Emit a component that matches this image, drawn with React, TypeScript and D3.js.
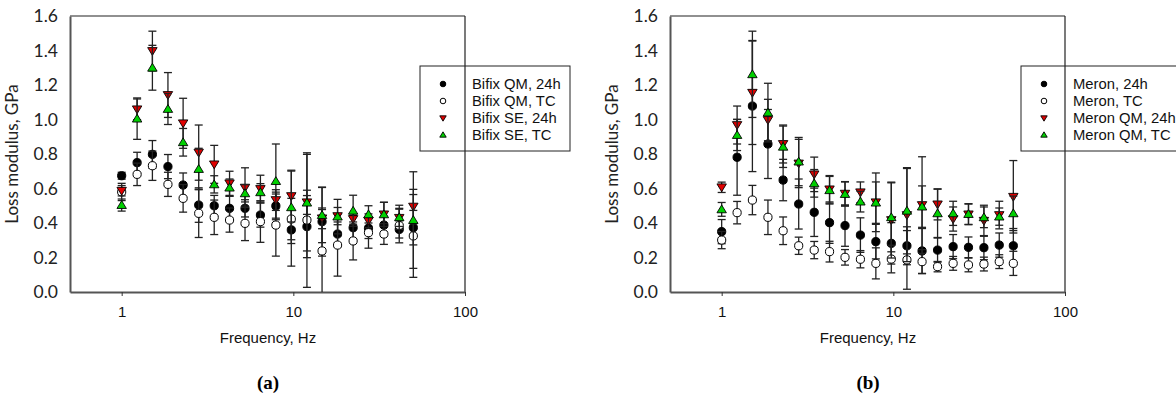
import React, { useEffect, useRef } from "react";
import * as d3 from "d3";

// frequencies shared by both panels
const freqHz = [1, 1.23, 1.51, 1.86, 2.28, 2.81, 3.46, 4.25, 5.23, 6.43, 7.91, 9.73, 12.0, 14.7, 18.1, 22.3, 27.4, 33.7, 41.4, 50];

const xTickValues = [1, 10, 100];
const yTickValues = [0, 0.2, 0.4, 0.6, 0.8, 1.0, 1.2, 1.4, 1.6];

// (a) Bifix
const bifixQm24 = [0.674, 0.75, 0.798, 0.727, 0.62, 0.504, 0.5, 0.485, 0.485, 0.446, 0.499, 0.36, 0.379, 0.408, 0.336, 0.373, 0.37, 0.388, 0.363, 0.373];
const bifixQm24Err = [0.02, 0.06, 0.08, 0.07, 0.07, 0.1, 0.06, 0.07, 0.05, 0.07, 0.08, 0.21, 0.18, 0.2, 0.07, 0.07, 0.06, 0.05, 0.05, 0.1];
const bifixQmTc = [0.58, 0.682, 0.732, 0.624, 0.543, 0.456, 0.433, 0.417, 0.398, 0.408, 0.388, 0.423, 0.417, 0.238, 0.272, 0.296, 0.344, 0.336, 0.385, 0.325];
const bifixQmTcErr = [0.05, 0.065, 0.085, 0.07, 0.08, 0.14, 0.1, 0.07, 0.1, 0.12, 0.18, 0.12, 0.39, 0.24, 0.18, 0.11, 0.09, 0.06, 0.1, 0.24];
const bifixSe24 = [0.587, 1.059, 1.397, 1.142, 0.978, 0.808, 0.74, 0.63, 0.605, 0.597, 0.533, 0.556, 0.52, 0.427, 0.44, 0.423, 0.413, 0.45, 0.43, 0.495];
const bifixSe24Err = [0.03, 0.06, 0.115, 0.13, 0.145, 0.16, 0.11, 0.07, 0.115, 0.08, 0.06, 0.15, 0.07, 0.06, 0.05, 0.03, 0.04, 0.07, 0.05, 0.1];
const bifixSeTc = [0.504, 1.005, 1.3, 1.061, 0.868, 0.713, 0.624, 0.605, 0.572, 0.578, 0.643, 0.491, 0.518, 0.446, 0.437, 0.471, 0.45, 0.45, 0.433, 0.417];
const bifixSeTcErr = [0.035, 0.12, 0.13, 0.09, 0.08, 0.12, 0.05, 0.05, 0.05, 0.05, 0.215, 0.21, 0.28, 0.16, 0.1, 0.09, 0.05, 0.07, 0.07, 0.28];

// (b) Meron
const meron24 = [0.35, 0.781, 1.078, 0.858, 0.649, 0.51, 0.462, 0.402, 0.385, 0.33, 0.292, 0.282, 0.268, 0.238, 0.243, 0.263, 0.259, 0.257, 0.272, 0.268];
const meron24Err = [0.07, 0.22, 0.38, 0.2, 0.12, 0.145, 0.14, 0.12, 0.12, 0.1, 0.1, 0.12, 0.11, 0.13, 0.07, 0.07, 0.06, 0.07, 0.07, 0.1];
const meronTc = [0.301, 0.46, 0.533, 0.433, 0.355, 0.268, 0.243, 0.234, 0.201, 0.19, 0.166, 0.191, 0.186, 0.176, 0.147, 0.166, 0.157, 0.162, 0.176, 0.166];
const meronTcErr = [0.05, 0.065, 0.085, 0.1, 0.08, 0.05, 0.05, 0.06, 0.045, 0.05, 0.09, 0.08, 0.17, 0.07, 0.03, 0.04, 0.04, 0.04, 0.04, 0.07];
const meronQm24 = [0.607, 0.968, 1.155, 0.997, 0.858, 0.745, 0.682, 0.595, 0.57, 0.578, 0.52, 0.417, 0.446, 0.504, 0.508, 0.423, 0.45, 0.413, 0.446, 0.552];
const meronQm24Err = [0.03, 0.11, 0.3, 0.12, 0.11, 0.14, 0.1, 0.08, 0.07, 0.06, 0.17, 0.22, 0.27, 0.28, 0.09, 0.07, 0.06, 0.09, 0.08, 0.21];
const meronQmTc = [0.479, 0.91, 1.262, 1.04, 0.842, 0.756, 0.63, 0.59, 0.568, 0.524, 0.518, 0.433, 0.471, 0.495, 0.456, 0.456, 0.452, 0.433, 0.437, 0.456];
const meronQmTcErr = [0.04, 0.09, 0.25, 0.17, 0.12, 0.14, 0.08, 0.08, 0.07, 0.06, 0.12, 0.2, 0.25, 0.12, 0.14, 0.07, 0.06, 0.06, 0.05, 0.1];

const markerStyles = [
  { shape: "circle", fill: "#000" },
  { shape: "circle", fill: "#fff" },
  { shape: "down", fill: "#e00000" },
  { shape: "up", fill: "#00d000" },
];

const panelA = {
  left: 70,
  tag: "(a)",
  labels: ["Bifix QM, 24h", "Bifix QM, TC", "Bifix SE, 24h", "Bifix SE, TC"],
  values: [bifixQm24, bifixQmTc, bifixSe24, bifixSeTc],
  errors: [bifixQm24Err, bifixQmTcErr, bifixSe24Err, bifixSeTcErr],
  legendX: 420,
  legendW: 150,
};

const panelB = {
  left: 670,
  tag: "(b)",
  labels: ["Meron, 24h", "Meron, TC", "Meron QM, 24h", "Meron QM, TC"],
  values: [meron24, meronTc, meronQm24, meronQmTc],
  errors: [meron24Err, meronTcErr, meronQm24Err, meronQmTcErr],
  legendX: 1021,
  legendW: 170,
};

const W = 1176, H = 400;
const plotW = 395, top = 16, bottom = 292;
const sansFont = "'Liberation Sans', Arial, sans-serif";
const calFont = "Lato, 'Open Sans', sans-serif";

function drawMarker(g, shape, fill, cx, cy, s) {
  if (shape === "circle") {
    g.append("circle").attr("cx", cx).attr("cy", cy).attr("r", s)
      .attr("fill", fill).attr("stroke", "#000").attr("stroke-width", 1);
  } else {
    const h = s * 1.9;
    const w = s * 1.15;
    const pts = shape === "up"
      ? [[cx, cy - h / 2 - 0.5], [cx + w, cy + h / 2 - 0.5], [cx - w, cy + h / 2 - 0.5]]
      : [[cx, cy + h / 2 + 0.5], [cx + w, cy - h / 2 + 0.5], [cx - w, cy - h / 2 + 0.5]];
    g.append("polygon").attr("points", pts.map(p => p.join(",")).join(" "))
      .attr("fill", fill).attr("stroke", "#000").attr("stroke-width", 0.9);
  }
}

const Panel = ({ cfg }) => {
  const gRef = useRef();

  useEffect(() => {
    const g = d3.select(gRef.current);
    g.selectAll("*").remove();

    const x = d3.scaleLog().domain([0.5, 100]).range([cfg.left, cfg.left + plotW]);
    const y = d3.scaleLinear().domain([0, 1.6]).range([bottom, top]);

    // frame top/right
    g.append("line").attr("x1", cfg.left).attr("x2", cfg.left + plotW).attr("y1", top).attr("y2", top)
      .attr("stroke", "#222").attr("stroke-width", 1.2);
    g.append("line").attr("x1", cfg.left + plotW).attr("x2", cfg.left + plotW).attr("y1", top).attr("y2", bottom)
      .attr("stroke", "#222").attr("stroke-width", 1.2);

    // x axis
    const xAxis = g.append("g").attr("transform", `translate(0,${bottom})`)
      .call(d3.axisBottom(x).tickValues(xTickValues).tickFormat(d3.format("d")).tickSizeOuter(0).tickSizeInner(4).tickPadding(10));
    xAxis.select(".domain").attr("stroke", "#555").attr("stroke-width", 2);
    xAxis.selectAll(".tick line").attr("stroke", "#333");
    xAxis.selectAll("text").attr("font-family", sansFont).attr("font-size", 15).attr("fill", "#111");

    // y axis
    const yAxis = g.append("g").attr("transform", `translate(${cfg.left},0)`)
      .call(d3.axisLeft(y).tickValues(yTickValues).tickFormat(d3.format(".1f")).tickSizeOuter(0).tickSize(0).tickPadding(12));
    yAxis.select(".domain").attr("stroke", "#555").attr("stroke-width", 2);
    yAxis.selectAll("text").attr("font-family", calFont).attr("font-size", 17.5).attr("fill", "#222");

    // axis titles
    g.append("text")
      .attr("transform", `translate(${cfg.left - 52},${(top + bottom) / 2}) rotate(-90)`)
      .attr("text-anchor", "middle").attr("font-family", calFont).attr("font-size", 17).attr("fill", "#222")
      .text("Loss modulus, GPa");
    g.append("text")
      .attr("x", cfg.left + 198).attr("y", 343)
      .attr("text-anchor", "middle").attr("font-family", sansFont).attr("font-size", 15).attr("fill", "#111")
      .text("Frequency, Hz");
    g.append("text")
      .attr("x", cfg.left + 198).attr("y", 389)
      .attr("text-anchor", "middle").attr("font-family", "'Liberation Serif', serif").attr("font-weight", "bold")
      .attr("font-size", 19).attr("fill", "#000")
      .text(cfg.tag);

    // series: error bars, then markers
    cfg.values.forEach((vals, si) => {
      const errs = cfg.errors[si];
      const st = markerStyles[si];
      const sg = g.append("g");
      vals.forEach((v, i) => {
        const cx = x(freqHz[i]);
        const lo = Math.max(0, v - errs[i]);
        const hi = v + errs[i];
        sg.append("line").attr("x1", cx).attr("x2", cx).attr("y1", y(lo)).attr("y2", y(hi))
          .attr("stroke", "#222").attr("stroke-width", 1.3);
        [lo, hi].forEach(e => {
          if (e <= 0) return;
          sg.append("line").attr("x1", cx - 4).attr("x2", cx + 4).attr("y1", y(e)).attr("y2", y(e))
            .attr("stroke", "#222").attr("stroke-width", 1.3);
        });
      });
      vals.forEach((v, i) => {
        drawMarker(sg, st.shape, st.fill, x(freqHz[i]), y(v), 4.1);
      });
    });

    // legend
    const lg = g.append("g");
    lg.append("rect").attr("x", cfg.legendX).attr("y", 66).attr("width", cfg.legendW).attr("height", 85)
      .attr("fill", "none").attr("stroke", "#222").attr("stroke-width", 1);
    cfg.labels.forEach((lab, i) => {
      const ly = 84 + i * 17;
      const st = markerStyles[i];
      drawMarker(lg, st.shape, st.fill, cfg.legendX + 23, ly, 2.8);
      lg.append("text").attr("x", cfg.legendX + 52).attr("y", ly + 5)
        .attr("font-family", sansFont).attr("font-size", 14.8).attr("fill", "#111")
        .text(lab);
    });
  }, [cfg]);

  return <g ref={gRef}></g>;
};

export default function App() {
  return (
    <svg width={W} height={H} style={{ position: "absolute", left: 0, top: 0, background: "#fff" }}>
      <rect width={W} height={H} fill="#fff" />
      <Panel cfg={panelA} />
      <Panel cfg={panelB} />
    </svg>
  );
}
